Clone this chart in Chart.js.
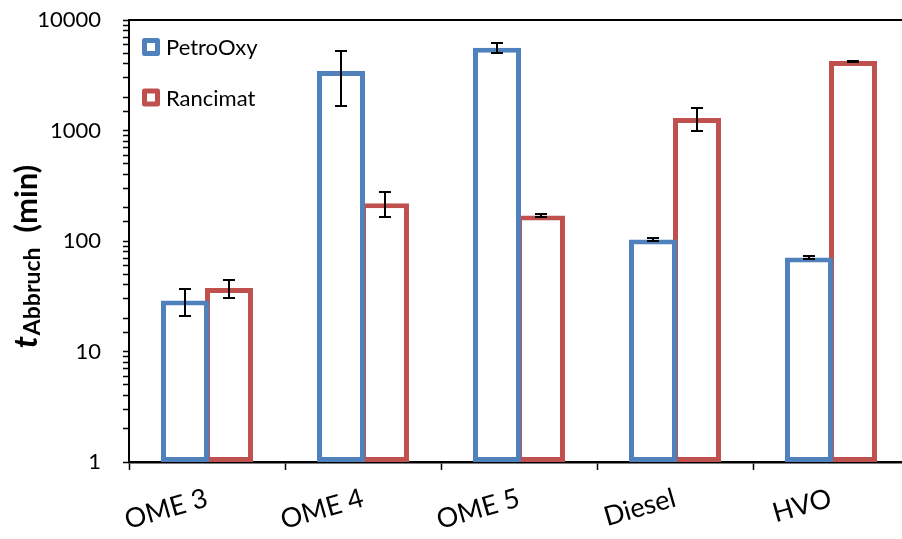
<!DOCTYPE html>
<html>
<head>
<meta charset="utf-8">
<script src="https://cdn.jsdelivr.net/npm/chart.js@4.4.1/dist/chart.umd.min.js"></script>
<style>
    html, body { margin: 0; padding: 0; background: #fff; overflow: hidden; }
    #wrap { width: 920px; height: 539px; }
</style>
</head>
<body>
<div id="wrap"><canvas id="stability-chart" width="920" height="539"></canvas></div>
<script>
const fuels = ["OME 3", "OME 4", "OME 5", "Diesel", "HVO"];
const petroOxy = [29, 3450, 5600, 103, 71];
const petroOxyErr = [8, 1800, 550, 2.5, 2];
const rancimat = [37.5, 220, 170, 1300, 4250];
const rancimatErr = [6.7, 56, 4, 300, 50];

const FONT = "Lato, 'Open Sans', sans-serif";
const BLUE = "#4F81BD";
const RED = "#C0504D";

// symmetric error bars with caps, drawn on top of the bars
const errorBars = {
    id: "errorBars",
    afterDatasetsDraw(chart) {
        const { ctx } = chart;
        const yScale = chart.scales.y;
        ctx.save();
        ctx.strokeStyle = "#000";
        ctx.lineWidth = 2;
        chart.data.datasets.forEach((ds, i) => {
            chart.getDatasetMeta(i).data.forEach((bar, j) => {
                const v = ds.data[j], e = ds.errors[j];
                const yTop = Math.round(yScale.getPixelForValue(v + e));
                const yBot = Math.round(yScale.getPixelForValue(v - e));
                const x = Math.round(bar.x);
                ctx.beginPath();
                ctx.moveTo(x, yTop); ctx.lineTo(x, yBot);
                ctx.moveTo(x - 6, yTop); ctx.lineTo(x + 6, yTop);
                ctx.moveTo(x - 6, yBot); ctx.lineTo(x + 6, yBot);
                ctx.stroke();
            });
        });
        ctx.restore();
    }
};

// legend in the upper left of the plot, top border line, y title with subscript
const decorations = {
    id: "decorations",
    afterDraw(chart) {
        const { ctx, chartArea } = chart;
        ctx.save();

        ctx.strokeStyle = "#000";
        ctx.lineWidth = 2;
        ctx.beginPath();
        ctx.moveTo(chartArea.left, chartArea.top);
        ctx.lineTo(chartArea.right, chartArea.top);
        ctx.stroke();

        chart.data.datasets.forEach((ds, i) => {
            const cy = chartArea.top + 27 + i * 50.5;
            const x0 = chartArea.left + 13;
            ctx.lineWidth = 5;
            ctx.lineJoin = "round";
            ctx.strokeStyle = ds.borderColor;
            ctx.fillStyle = "#fff";
            ctx.fillRect(x0 + 2.5, cy - 6.5, 13, 13);
            ctx.strokeRect(x0 + 2.5, cy - 6.5, 13, 13);
            ctx.fillStyle = "#000";
            ctx.font = `22px ${FONT}`;
            ctx.textBaseline = "middle";
            ctx.fillText(ds.label, x0 + 24, cy + 1);
        });

        ctx.translate(37, 257);
        ctx.rotate(-Math.PI / 2);
        ctx.fillStyle = "#000";
        ctx.textBaseline = "alphabetic";
        const fMain = `italic bold 33px ${FONT}`;
        const fSub = `bold 23px ${FONT}`;
        const fUnit = `bold 31px ${FONT}`;
        ctx.font = fMain; const wT = ctx.measureText("t").width;
        ctx.font = fSub; const wS = ctx.measureText("Abbruch").width;
        ctx.font = fUnit; const wU = ctx.measureText("  (min)").width;
        let x = -(wT + wS + wU) / 2;
        ctx.font = fMain; ctx.fillText("t", x, 0); x += wT + 1;
        ctx.font = fSub; ctx.fillText("Abbruch", x, 3); x += wS;
        ctx.font = fUnit; ctx.fillText("  (min)", x, 0);
        ctx.restore();
    }
};

const ctx = document.getElementById("stability-chart").getContext("2d");
new Chart(ctx, {
    type: "bar",
    data: {
        labels: fuels,
        datasets: [
            {
                label: "PetroOxy",
                data: petroOxy,
                errors: petroOxyErr,
                backgroundColor: "#fff",
                borderColor: BLUE,
                borderWidth: 5,
                borderSkipped: false
            },
            {
                label: "Rancimat",
                data: rancimat,
                errors: rancimatErr,
                backgroundColor: "#fff",
                borderColor: RED,
                borderWidth: 5,
                borderSkipped: false
            }
        ]
    },
    options: {
        responsive: false,
        animation: false,
        categoryPercentage: 0.564,
        barPercentage: 48 / 44,
        layout: { padding: { top: 20, right: 11, left: 0, bottom: 0 } },
        plugins: {
            legend: { display: false },
            tooltip: { enabled: false }
        },
        scales: {
            x: {
                z: 1,
                offset: true,
                grid: { drawOnChartArea: false, offset: true, tickLength: 8, color: "#000", tickWidth: 1.5 },
                border: { color: "#000", width: 2.5 },
                ticks: {
                    color: "#000",
                    font: { family: FONT, size: 27 },
                    minRotation: 16,
                    maxRotation: 16,
                    padding: 12
                },
                afterFit: s => { s.height = 77; }
            },
            y: {
                z: 1,
                type: "logarithmic",
                min: 1,
                max: 10000,
                grid: { drawOnChartArea: false, tickLength: 6, color: "#000", tickWidth: 1.5 },
                border: { color: "#000", width: 2 },
                ticks: {
                    autoSkip: false,
                    color: "#000",
                    font: { family: FONT, size: 22 },
                    padding: 22,
                    callback: v => {
                        const p = Math.log10(v);
                        return Math.abs(p - Math.round(p)) < 1e-9 ? String(v) : "";
                    }
                },
                afterFit: s => {
                    s.width = 129;
                    s.paddingTop = 0;
                    s.paddingBottom = 0;
                }
            }
        }
    },
    plugins: [errorBars, decorations]
});
</script>
</body>
</html>
